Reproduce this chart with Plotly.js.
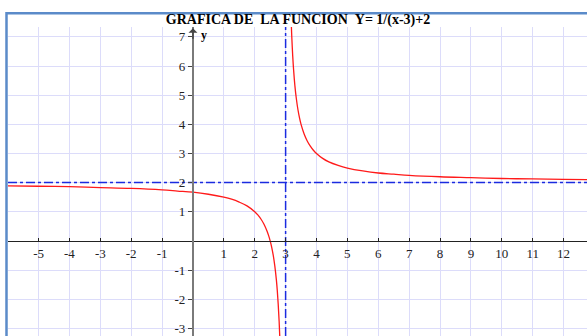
<!DOCTYPE html>
<html>
<head>
<meta charset="utf-8">
<script src="https://cdn.plot.ly/plotly-3.0.1.min.js"></script>
<style>
  body { margin: 0; background: #fff; }
</style>
</head>
<body>
<div id="myDiv"></div>
<script>
// values
var leftX = [-6, -5, -4, -3, -2, -1, -0.5, 0, 0.5, 1, 1.25, 1.5, 1.75, 2, 2.1, 2.2, 2.3, 2.4, 2.45, 2.5, 2.55, 2.6, 2.65, 2.7, 2.73, 2.76, 2.79, 2.82, 2.84];
var leftY = [1.89, 1.875, 1.86, 1.83, 1.8, 1.75, 1.71, 1.67, 1.6, 1.5, 1.43, 1.33, 1.2, 1.0, 0.89, 0.75, 0.57, 0.33, 0.18, 0.0, -0.22, -0.5, -0.86, -1.33, -1.7, -2.17, -2.76, -3.56, -4.25];

var rightX = [3.14, 3.16, 3.18, 3.2, 3.23, 3.26, 3.3, 3.35, 3.4, 3.45, 3.5, 3.6, 3.7, 3.8, 3.9, 4, 4.2, 4.4, 4.7, 5, 5.5, 6, 6.5, 7, 8, 9, 10, 11, 12, 13];
var rightY = [9.14, 8.25, 7.56, 7.0, 6.35, 5.85, 5.33, 4.86, 4.5, 4.22, 4.0, 3.67, 3.43, 3.25, 3.11, 3.0, 2.83, 2.71, 2.59, 2.5, 2.4, 2.33, 2.29, 2.25, 2.2, 2.17, 2.14, 2.125, 2.11, 2.1];

var asymX = 3;
var asymY = 2;

var xTicks = [-5, -4, -3, -2, -1, 1, 2, 3, 4, 5, 6, 7, 8, 9, 10, 11, 12];
var xLabels = ["-5", "-4", "-3", "-2", "-1", "1", "2", "3", "4", "5", "6", "7", "8", "9", "10", "11", "12"];
var yTicks = [-3, -2, -1, 1, 2, 3, 4, 5, 6, 7];
var yLabels = ["-3", "-2", "-1", "1", "2", "3", "4", "5", "6", "7"];

var xRange = [-5.99, 12.76];
var yRange = [-3.265, 7.34];

var red = "#ff1a1a";
var blue = "#1a2be0";
var serif = "Liberation Serif";

var branchLeft = {
  x: leftX,
  y: leftY,
  mode: "lines",
  line: { color: red, width: 1.3, shape: "spline", smoothing: 1 },
  type: "scatter",
};

var branchRight = {
  x: rightX,
  y: rightY,
  mode: "lines",
  line: { color: red, width: 1.3, shape: "spline", smoothing: 1 },
  type: "scatter",
};

var vAsym = {
  x: [asymX, asymX],
  y: [yRange[0], yRange[1]],
  mode: "lines",
  line: { color: blue, width: 1.5, dash: "dashdot" },
  type: "scatter",
};

var hAsym = {
  x: [xRange[0], xRange[1]],
  y: [asymY, asymY],
  mode: "lines",
  line: { color: blue, width: 1.5, dash: "dashdot" },
  type: "scatter",
};

var data = [hAsym, vAsym, branchLeft, branchRight];

// where x=0 / y=0 fall inside the plot, as paper fractions
var xZero = (0 - xRange[0]) / (xRange[1] - xRange[0]);
var yZero = (0 - yRange[0]) / (yRange[1] - yRange[0]);

var layout = {
  width: 587,
  height: 336,
  margin: { l: 8, r: 0, t: 27, b: 0 },
  paper_bgcolor: "#fff",
  plot_bgcolor: "#fff",
  showlegend: false,
  hovermode: false,
  title: {
    text: "GRAFICA DE \u00a0LA FUNCION \u00a0Y= 1/(x-3)+2",
    font: { family: serif, size: 14, color: "#000", weight: "bold" },
    x: 298 / 587,
    xanchor: "center",
    xref: "container",
    y: 1 - 19 / 336,
    yanchor: "middle",
  },
  xaxis: {
    range: xRange,
    anchor: "free",
    position: yZero,
    tickmode: "array",
    tickvals: xTicks,
    ticktext: xLabels,
    ticks: "inside",
    ticklen: 3,
    tickcolor: "#222",
    tickfont: { family: serif, size: 13, color: "#222" },
    showline: true,
    linecolor: "#222",
    linewidth: 1.5,
    showgrid: true,
    gridcolor: "#dcdcfa",
    gridwidth: 1,
    zeroline: false,
    fixedrange: true,
  },
  yaxis: {
    range: yRange,
    anchor: "free",
    position: xZero,
    tickmode: "array",
    tickvals: yTicks,
    ticktext: yLabels,
    ticks: "outside",
    ticklen: 4,
    tickcolor: "#444",
    tickfont: { family: serif, size: 13, color: "#222" },
    showline: true,
    linecolor: "#7a7a7a",
    linewidth: 2,
    showgrid: true,
    gridcolor: "#dcdcfa",
    gridwidth: 1,
    zeroline: false,
    fixedrange: true,
  },
  shapes: [
    {
      type: "rect",
      xref: "paper",
      yref: "paper",
      x0: -0.0026,
      x1: 1.1,
      y0: -0.1,
      y1: 1.0443,
      line: { color: "#5b8bc9", width: 2.5 },
      layer: "above",
    },
  ],
  annotations: [
    {
      x: 0, y: 7.3, xref: "x", yref: "y",
      showarrow: true, arrowhead: 1, arrowsize: 1, arrowwidth: 1.5,
      arrowcolor: "#444", ax: 0, ay: 12, text: "",
    },
    {
      x: 0.2, y: 7.08, xref: "x", yref: "y", showarrow: false,
      text: "y", xanchor: "left",
      font: { family: serif, size: 12, color: "#000", weight: "bold" },
    },
    {
      x: 12.72, y: 0.28, xref: "x", yref: "y", showarrow: false,
      text: "x", xanchor: "left",
      font: { family: serif, size: 11, color: "#000" },
    },
  ],
};

const config = {
  displayModeBar: false,
  staticPlot: true,
};

Plotly.newPlot("myDiv", data, layout, config);
</script>
</body>
</html>
